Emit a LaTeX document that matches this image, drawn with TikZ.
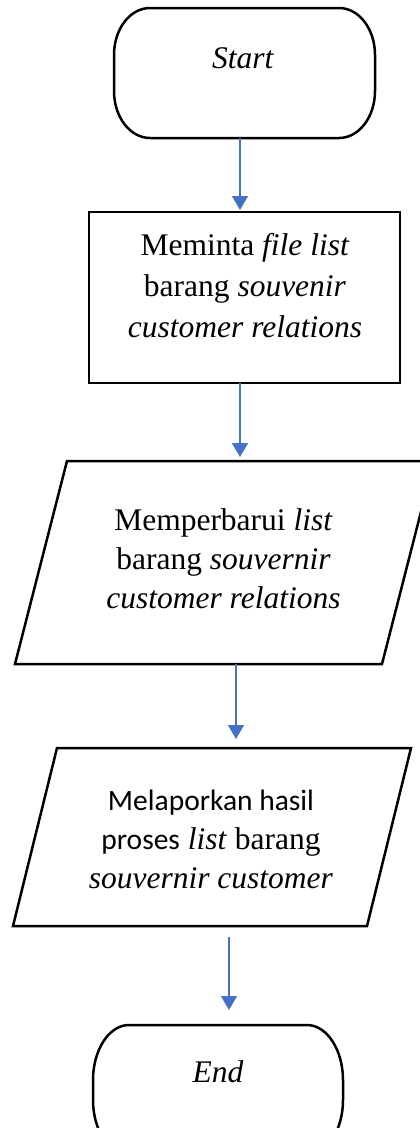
\documentclass[tikz,border=0pt]{standalone}
\usepackage{fontspec}
\setmainfont{Liberation Serif}
\newfontfamily\calib{Carlito}
\usetikzlibrary{arrows.meta,calc}
\definecolor{flowblue}{HTML}{4472C4}

% elliptical-cornered terminal outline around an (undrawn) node
\newcommand{\terminaloutline}[5]{% node, rx, ry, control rx, control ry
  \draw[boxline] ([xshift=#2]#1.north west) -- ([xshift=-#2]#1.north east)
    .. controls +(#4,0) and +(0,#5) .. ([yshift=-#3]#1.north east)
    -- ([yshift=#3]#1.south east)
    .. controls +(0,-#5) and +(#4,0) .. ([xshift=-#2]#1.south east)
    -- ([xshift=#2]#1.south west)
    .. controls +(-#4,0) and +(0,-#5) .. ([yshift=#3]#1.south west)
    -- ([yshift=-#3]#1.north west)
    .. controls +(0,#5) and +(-#4,0) .. cycle;
}
% parallelogram outline around an (undrawn) node, slanted by #2 on each side
\newcommand{\paraoutline}[2]{%
  \draw[boxline] ([xshift=#2]#1.north west) -- ([xshift=#2]#1.north east)
    -- ([xshift=-#2]#1.south east) -- ([xshift=-#2]#1.south west) -- cycle;
}

\tikzset{
  boxline/.style={line width=2.5pt, black, line join=miter},
  frame/.style={draw=none, inner sep=0pt, outer sep=0pt, shape=rectangle},
  label text/.style={inner sep=0pt, outer sep=0pt, align=center, anchor=base,
    font=\fontsize{31.5}{41}\selectfont},
  flow/.style={draw=flowblue, line width=1.5pt,
    -{Triangle[width=16pt,length=14pt]}},
}

\begin{document}
\begin{tikzpicture}[x=1pt,y=1pt]
\useasboundingbox (0,0) rectangle (420,-1128);

% shapes
\node[frame, minimum width=261, minimum height=130] (start) at (244.5,-73) {};
\node[frame, draw, boxline, minimum width=311, minimum height=171] (request) at (244.5,-297.5) {};
\node[frame, minimum width=367, minimum height=203] (update) at (224.5,-562.5) {};
\node[frame, minimum width=354, minimum height=178] (report) at (212,-837) {};
\node[frame, minimum width=250, minimum height=130] (end) at (218,-1090) {};

\terminaloutline{start}{36}{47}{20}{26}
\paraoutline{update}{26}
\paraoutline{report}{22}
\terminaloutline{end}{36}{55}{20}{30}

% texts (base anchor sits on the last line)
\node[label text] (start-t) at (243,-68) {\textit{Start}};
\node[label text] (request-t) at (245,-337)
  {Meminta \textit{file list}\\barang \textit{souvenir}\\\textit{customer relations}};
\node[label text, font=\fontsize{31.5}{39}\selectfont] (update-t) at (223.5,-608)
  {Memperbarui \textit{list}\\barang \textit{souvernir}\\\textit{customer relations}};
\node[label text, font=\fontsize{31.5}{39}\selectfont] (report-t) at (211,-888)
  {{\calib\fontsize{29.5}{39}\selectfont Melaporkan hasil}\\{\calib\fontsize{29.5}{39}\selectfont proses} \textit{list} barang\\\textit{souvernir customer}};
\node[label text] (end-t) at (218,-1082) {\textit{End}};

% connectors
\draw[flow, shorten >=2pt] ([xshift=-4.5]start.south) -- ([xshift=-4.5]request.north);
\draw[flow, shorten >=4pt] ([xshift=-4.5]request.south) -- ([xshift=15.5]update.north);
\draw[flow, shorten >=9pt] ([xshift=11.5]update.south) -- ([xshift=24]report.north);
\draw[flow, shorten <=11pt, shorten >=15pt] ([xshift=17]report.south) -- ([xshift=11]end.north);
\end{tikzpicture}
\end{document}
